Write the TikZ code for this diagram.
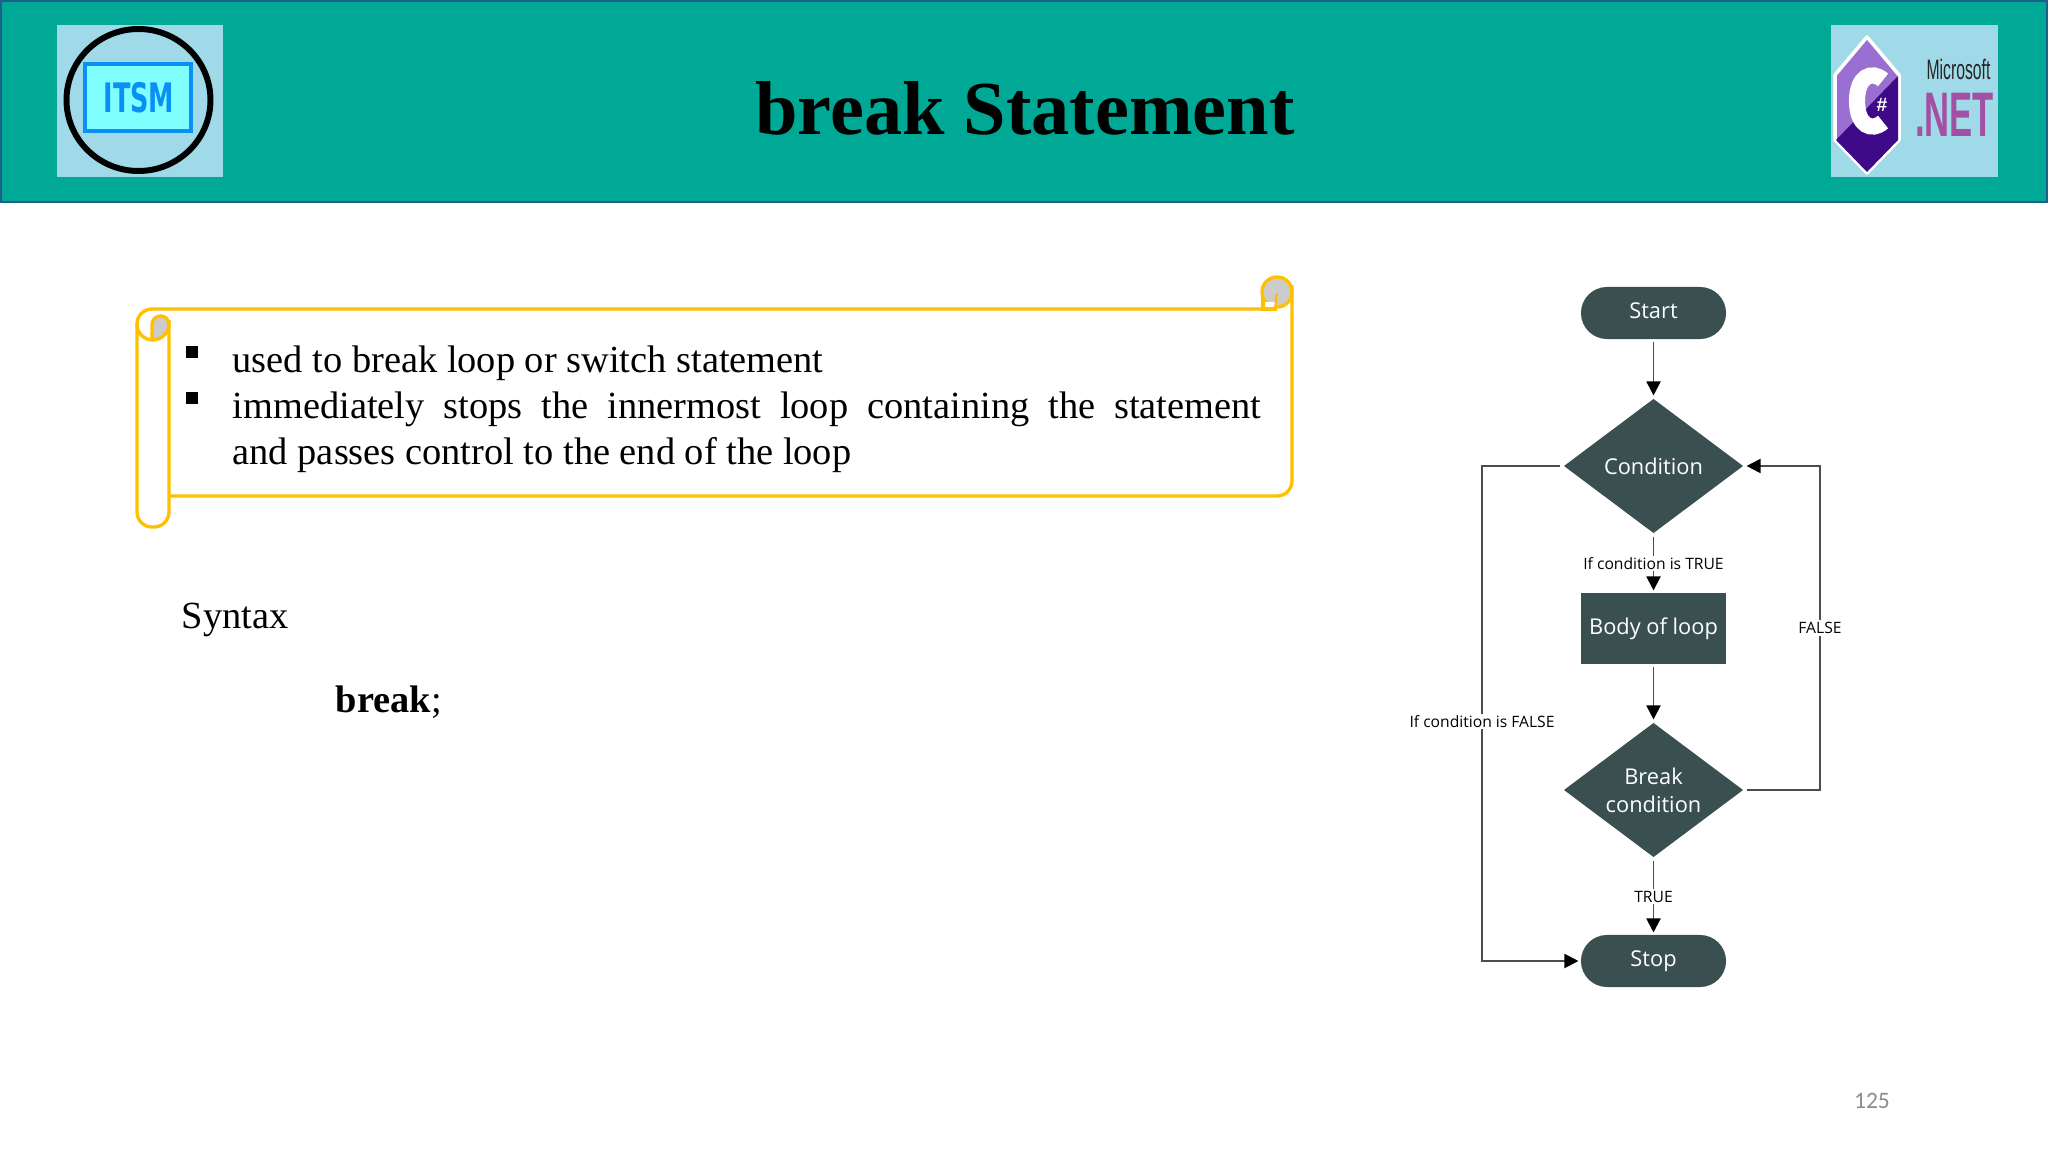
\documentclass[tikz,border=0pt]{standalone}
\usepackage{fontspec}
\setmainfont{Liberation Serif}
\newfontfamily\flowfont{Open Sans}
\newfontfamily\numfont{Carlito}
\newfontfamily\logofont{Liberation Sans}
\newfontfamily\heavyfont{DejaVu Sans}
\usetikzlibrary{shapes.geometric, arrows.meta}
\definecolor{headteal}{HTML}{00A995}
\definecolor{headline}{HTML}{1F5F8B}
\definecolor{logoblue}{HTML}{A0D9E8}
\definecolor{scrollgold}{HTML}{FFC000}
\definecolor{flowdark}{HTML}{3A4F50}
\definecolor{itsmblue}{HTML}{0A90F5}
\definecolor{itsmcyan}{HTML}{80FFFF}
\definecolor{sharplight}{HTML}{9A6FD2}
\definecolor{sharpdark}{HTML}{3F0A88}
\definecolor{netpurple}{HTML}{A24FA4}
\tikzset{
    bodytext/.style={anchor=base west, inner sep=0pt, font=\fontsize{10.92}{12.95}\selectfont},
    scrollline/.style={draw=scrollgold, line width=0.95pt},
    terminal/.style={rectangle, rounded corners=0.26cm, fill=flowdark, text=white, minimum width=1.45cm, minimum height=0.52cm, inner sep=0pt, outer sep=0.025cm, text height=0.15cm, text depth=0.04cm, font=\flowfont\fontsize{6.2}{7.9}\selectfont},
    process/.style={rectangle, fill=flowdark, text=white, minimum width=1.45cm, minimum height=0.71cm, inner sep=0pt, outer sep=0.025cm, font=\flowfont\fontsize{6.2}{7.9}\selectfont},
    decision/.style={diamond, aspect=1.33, fill=flowdark, text=white, minimum width=1.81cm, minimum height=1.36cm, inner sep=0pt, outer sep=0.025cm, align=center, font=\flowfont\fontsize{6.2}{7.9}\selectfont},
    edgelabel/.style={fill=white, inner sep=0.5pt, font=\flowfont\fontsize{4.45}{5}\selectfont},
    flowline/.style={draw=black!70, line width=0.55pt},
    flowarrow/.style={flowline, -{Triangle[length=0.14cm, width=0.14cm, black]}},
}
\begin{document}
\begin{tikzpicture}[x=0.01cm, y=-0.01cm, >=stealth]
    \useasboundingbox (0,0) rectangle (2048,1152);
    \fill[white] (0,0) rectangle (2048,1152);

    % header band
    \draw[fill=headteal, draw=headline, line width=0.6pt] (1,1) rectangle (2047,202);
    \node[font=\bfseries\fontsize{21.7}{26}\selectfont] (title) at (1025,108.5) {break Statement};

    % left logo
    \fill[logoblue] (57,25) rectangle (223,177);
    \draw[line width=1.7pt] (138.5,100) circle [x radius=72, y radius=71];
    \draw[fill=itsmcyan, draw=itsmblue, line width=1.2pt] (85,64) rectangle (191,131);
    \node[text=itsmblue, inner sep=0pt, font=\heavyfont\bfseries\fontsize{11}{12}\selectfont] (itsm) at (139,98) {\scalebox{0.66}[1.05]{ITSM}};

    % right logo
    \fill[logoblue] (1831,25) rectangle (1998,177);
    \draw[fill=sharplight, draw=white, line width=1pt, line join=round] (1867,37) -- (1899,75) -- (1899,140) -- (1867,173) -- (1835,140) -- (1835,75) -- cycle;
    \fill[sharpdark] (1898,76) -- (1898,140) -- (1867,172) -- (1836,140) -- cycle;
    \draw[white, line width=4.6pt] (1883,80) .. controls (1872,70) and (1857,76) .. (1857,101) .. controls (1857,126) and (1872,132) .. (1883,122);
    \node[text=white, inner sep=0pt, font=\logofont\bfseries\fontsize{5.5}{7}\selectfont] (sharp) at (1882,105) {\#};
    \node[inner sep=0pt, text=black!85, font=\logofont\fontsize{8}{9}\selectfont] (msoft) at (1958.5,69) {\scalebox{0.56}[1]{Microsoft}};
    \node[inner sep=0pt, text=netpurple, font=\logofont\bfseries\fontsize{17.9}{20}\selectfont] (dotnet) at (1954.5,114.5) {\scalebox{0.55}[1]{.NET}};

    % scroll
    \draw[scrollline, rounded corners=0.15cm] (169,496) -- (1292,496) -- (1292,285);
    \draw[scrollline, rounded corners=0.15cm] (1277,309) -- (137,309) -- (137,527) -- (169,527) -- (169,320);
    \draw[scrollline, fill=black!20] (1277,292) circle [radius=15];
    \fill[white] (1264,302) rectangle (1275,307);
    \draw[scrollline] (1263,297) -- (1263,309) -- (1277,309);
    \draw[scrollline, line width=0.7pt] (1275,308) .. controls (1277,302) and (1275,297) .. (1277,293);
    \draw[scrollline, fill=black!20] (152,340) -- (152,325) .. controls (152,313) and (169,313) .. (169,325) .. controls (169,333) and (161,340) .. (152,340);
    \draw[scrollline] (137,324) .. controls (137,334) and (145,340) .. (153,340);

    % bullet text
    \fill (186,346) rectangle (198,358);
    \fill (186,392) rectangle (198,404);
    \node[bodytext] (item1) at (232,373) {used to break loop or switch statement};
    \node[bodytext, text width=10.28cm, align=justify] (item2) at (232,419) {immediately stops the innermost loop containing the statement\linebreak and passes control to the end of the loop};
    \node[bodytext] (syntax) at (181,628) {Syntax};
    \node[bodytext] (brk) at (335,712) {\textbf{break};};

    % flow chart
    \node[terminal] (start) at (1653.5,313) {Start};
    \node[decision] (cond) at (1653.5,466) {Condition};
    \node[process] (body) at (1653.5,628.5) {Body of loop};
    \node[decision] (breakc) at (1653.5,790) {Break\\condition};
    \node[terminal] (stop) at (1653.5,961) {Stop};
    \coordinate (lft) at (1482,466);
    \coordinate (rgt) at (1820,466);

    \draw[flowarrow] (start) -- (cond);
    \draw[flowarrow] (cond) -- node[edgelabel] (lbltrue) {If condition is TRUE} (body);
    \draw[flowarrow] (body) -- (breakc);
    \draw[flowarrow] (breakc) -- node[edgelabel] (lblstop) {TRUE} (stop);
    \draw[flowarrow] (cond.west) -- (lft) -- node[edgelabel, pos=0.516] (lblfalse) {If condition is FALSE} (lft |- stop) -- (stop.west);
    \draw[flowarrow] (breakc.east) -- (rgt |- breakc) -- node[edgelabel, pos=0.5] (lblback) {FALSE} (rgt) -- (cond.east);

    \node[text=black!45, inner sep=0pt, font=\numfont\fontsize{6.7}{8}\selectfont] (pagenum) at (1872,1101) {125};
\end{tikzpicture}
\end{document}
